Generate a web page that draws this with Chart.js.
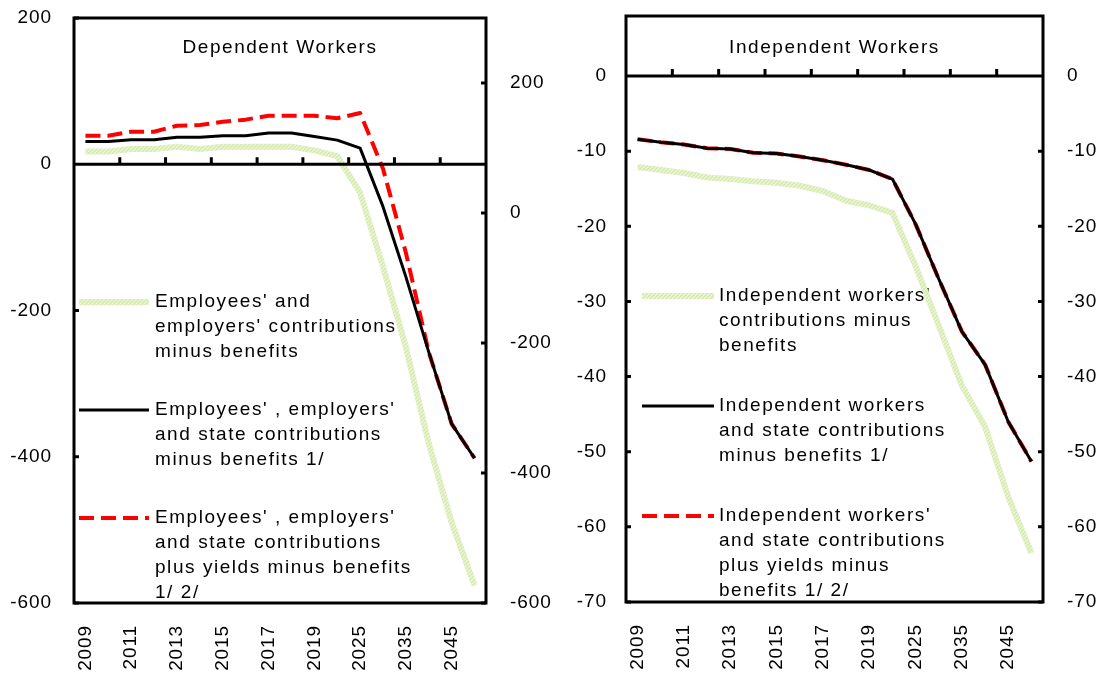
<!DOCTYPE html>
<html>
<head>
<meta charset="utf-8">
<script src="https://cdn.jsdelivr.net/npm/chart.js@4.4.0/dist/chart.umd.min.js"></script>
<style>
  html, body { margin: 0; padding: 0; background: #fff; }
  #wrap { position: relative; width: 1102px; height: 677px; overflow: hidden; }
  canvas { position: absolute; top: 0; }
  #dep { left: 0; }
  #ind { left: 551px; }
</style>
</head>
<body>
<div id="wrap">
  <canvas id="dep" width="566" height="677"></canvas>
  <canvas id="ind" width="551" height="677"></canvas>
</div>
<script>
const years = ['2009', '2010', '2011', '2012', '2013', '2014', '2015', '2016', '2017', '2018',
  '2019', '2020', '2025', '2030', '2035', '2040', '2045', '2050'];

// Dependent workers
const depContrib = [17.5, 17.5, 21, 21, 24, 21, 24, 24, 24, 24, 19, 11, -39, -140, -250, -382, -490, -576];
const depWithState = [31, 31, 33.6, 33.6, 37, 37, 39, 39, 42.7, 42.7, 38, 33, 22, -58, -154, -257, -355, -402];
const depWithYields = [39, 39, 44.5, 44.5, 52.7, 53.7, 58, 61, 66.4, 66.4, 66.4, 63, 70, -6, -121, -257, -355, -402];

// Independent workers
const indContrib = [-12.1, -12.5, -12.9, -13.5, -13.7, -14.0, -14.2, -14.6, -15.3, -16.6, -17.2, -18.2, -25.3, -33.2, -41.2, -46.7, -56, -63.5];
const indWithState = [-8.4, -8.8, -9.1, -9.6, -9.7, -10.2, -10.3, -10.7, -11.2, -11.8, -12.5, -13.7, -19.7, -27, -34, -38.4, -46, -51.3];
const indWithYields = [-8.4, -8.8, -9.1, -9.6, -9.7, -10.2, -10.3, -10.7, -11.2, -11.8, -12.5, -13.7, -19.7, -27, -34, -38.4, -46, -51.3];

const depLeftTicks = [200, 0, -200, -400, -600];
const depRightTicks = [200, 0, -200, -400, -600];
const indTicks = [0, -10, -20, -30, -40, -50, -60, -70];

const depLegend = [
  ["Employees' and", "employers' contributions", "minus benefits"],
  ["Employees' , employers'", "and state contributions", "minus benefits 1/"],
  ["Employees' , employers'", "and state contributions", "plus yields minus benefits", "1/ 2/"]
];
const indLegend = [
  ["Independent workers'", "contributions minus", "benefits"],
  ["Independent workers", "and state contributions", "minus benefits 1/"],
  ["Independent workers'", "and state contributions", "plus yields minus", "benefits 1/ 2/"]
];

const FONT = "'Liberation Sans', Arial, sans-serif";
Chart.defaults.font.family = FONT;
Chart.defaults.font.size = 19;
Chart.defaults.color = '#000';

function greenStripes(ctx) {
  const c = document.createElement('canvas');
  c.width = 4; c.height = 4;
  const g = c.getContext('2d');
  g.fillStyle = '#d5eaab';
  g.fillRect(0, 0, 4, 4);
  g.strokeStyle = '#ebf5d8';
  g.lineWidth = 1.4;
  g.beginPath();
  g.moveTo(-1, 1); g.lineTo(1, -1);
  g.moveTo(0, 4); g.lineTo(4, 0);
  g.moveTo(3, 5); g.lineTo(5, 3);
  g.stroke();
  return ctx.createPattern(c, 'repeat');
}

const panelPlugin = {
  id: 'panel',
  beforeUpdate(chart) { chart.ctx.letterSpacing = '0.9px'; },
  beforeDraw(chart) { chart.ctx.letterSpacing = '0.9px'; },
  beforeDatasetsDraw(chart, args, opts) {
    const { ctx, chartArea: a } = chart;
    ctx.save();
    ctx.beginPath();
    ctx.rect(a.left, a.top, a.right - a.left, a.bottom - a.top);
    ctx.clip();
    ctx.letterSpacing = '1.55px';
    ctx.font = '19px ' + FONT;
    ctx.fillStyle = '#000';
    ctx.textBaseline = 'middle';
    ctx.textAlign = 'center';
    ctx.fillText(opts.title, (a.left + a.right) / 2, a.top + opts.titleY);
    ctx.textAlign = 'left';
    opts.legend.forEach((lines, i) => {
      const ds = chart.data.datasets[i];
      const y0 = opts.legendY[i];
      ctx.save();
      ctx.strokeStyle = ds.borderColor;
      ctx.lineWidth = ds.borderWidth;
      ctx.setLineDash(ds.borderDash || []);
      ctx.beginPath();
      ctx.moveTo(a.left + opts.sampleX[0], y0);
      ctx.lineTo(a.left + opts.sampleX[1], y0);
      ctx.stroke();
      ctx.restore();
      lines.forEach((t, j) => ctx.fillText(t, a.left + opts.textX, y0 + j * 25));
    });
    ctx.restore();
  },
  afterDatasetsDraw(chart) {
    const { ctx, chartArea: a, scales } = chart;
    const x = scales.x, y = scales.y, y2 = scales.y2;
    ctx.save();
    ctx.strokeStyle = '#000';
    ctx.lineWidth = 3;
    ctx.setLineDash([]);
    ctx.strokeRect(a.left, a.top, a.right - a.left, a.bottom - a.top);
    // zero line with upward tick marks every two categories
    const y0 = y.getPixelForValue(0);
    ctx.beginPath();
    ctx.moveTo(a.left, y0); ctx.lineTo(a.right, y0);
    for (let k = 2; k < years.length; k += 2) {
      const px = (x.getPixelForTick(k - 1) + x.getPixelForTick(k)) / 2;
      ctx.moveTo(px, y0); ctx.lineTo(px, y0 - 7);
    }
    // inward ticks on both value axes
    y.ticks.forEach(t => {
      const py = y.getPixelForValue(t.value);
      ctx.moveTo(a.left, py); ctx.lineTo(a.left + 5, py);
    });
    y2.ticks.forEach(t => {
      const py = y2.getPixelForValue(t.value);
      ctx.moveTo(a.right, py); ctx.lineTo(a.right - 5, py);
    });
    ctx.stroke();
    ctx.restore();
  }
};

function makePanel(id, cfg) {
  const canvas = document.getElementById(id);
  const ctx = canvas.getContext('2d');
  return new Chart(ctx, {
    type: 'line',
    data: {
      labels: years,
      datasets: [
        { data: cfg.series[0], borderColor: greenStripes(ctx), borderWidth: 6, pointRadius: 0, borderJoinStyle: 'round' },
        { data: cfg.series[1], borderColor: '#000', borderWidth: 3, pointRadius: 0, borderJoinStyle: 'round' },
        { data: cfg.series[2], borderColor: '#ff0000', borderWidth: 4, borderDash: [15, 7], pointRadius: 0, borderJoinStyle: 'round' }
      ]
    },
    options: {
      responsive: false,
      animation: false,
      devicePixelRatio: 1,
      layout: { padding: { top: cfg.top, left: 0, right: 0, bottom: 0 } },
      plugins: {
        legend: { display: false },
        tooltip: { enabled: false },
        panel: {
          title: cfg.title,
          titleY: cfg.titleY,
          legend: cfg.legend,
          legendY: cfg.legendY,
          sampleX: cfg.sampleX,
          textX: cfg.textX
        }
      },
      scales: {
        x: {
          type: 'category',
          offset: true,
          grid: { display: false, drawTicks: false },
          border: { display: false },
          ticks: {
            autoSkip: false,
            minRotation: 90,
            maxRotation: 90,
            padding: 22,
            callback: (v, i) => (i % 2 === 0 ? years[i] : '')
          },
          afterFit: s => { s.height = cfg.xHeight; s.paddingLeft = 0; s.paddingRight = 0; }
        },
        y: {
          position: 'left',
          min: cfg.yMin,
          max: cfg.yMax,
          grid: { display: false, drawTicks: false },
          border: { display: false },
          ticks: { autoSkip: false, padding: cfg.leftPad },
          afterBuildTicks: s => { s.ticks = cfg.leftTicks.map(v => ({ value: v })); },
          afterFit: s => { s.width = cfg.leftWidth; s.paddingTop = 0; s.paddingBottom = 0; }
        },
        y2: {
          position: 'right',
          min: cfg.y2Min,
          max: cfg.y2Max,
          grid: { display: false, drawTicks: false },
          border: { display: false },
          ticks: { autoSkip: false, padding: cfg.rightPad },
          afterBuildTicks: s => { s.ticks = cfg.rightTicks.map(v => ({ value: v })); },
          afterFit: s => { s.width = cfg.rightWidth; s.paddingTop = 0; s.paddingBottom = 0; }
        }
      }
    },
    plugins: [panelPlugin]
  });
}

makePanel('dep', {
  title: 'Dependent Workers',
  titleY: 30,
  series: [depContrib, depWithState, depWithYields],
  legend: depLegend,
  legendY: [302, 410, 518],
  sampleX: [5, 75],
  textX: 81,
  top: 18,
  xHeight: 74,
  yMin: -600, yMax: 200, leftTicks: depLeftTicks, leftWidth: 74, leftPad: 22,
  y2Min: -600, y2Max: 300, rightTicks: depRightTicks, rightWidth: 80, rightPad: 24
});

makePanel('ind', {
  title: 'Independent Workers',
  titleY: 32,
  series: [indContrib, indWithState, indWithYields],
  legend: indLegend,
  legendY: [296, 406, 516],
  sampleX: [16, 88],
  textX: 93,
  top: 16,
  xHeight: 75,
  yMin: -70, yMax: 8, leftTicks: indTicks, leftWidth: 75, leftPad: 19,
  y2Min: -70, y2Max: 8, rightTicks: indTicks, rightWidth: 59, rightPad: 24
});
</script>
</body>
</html>
